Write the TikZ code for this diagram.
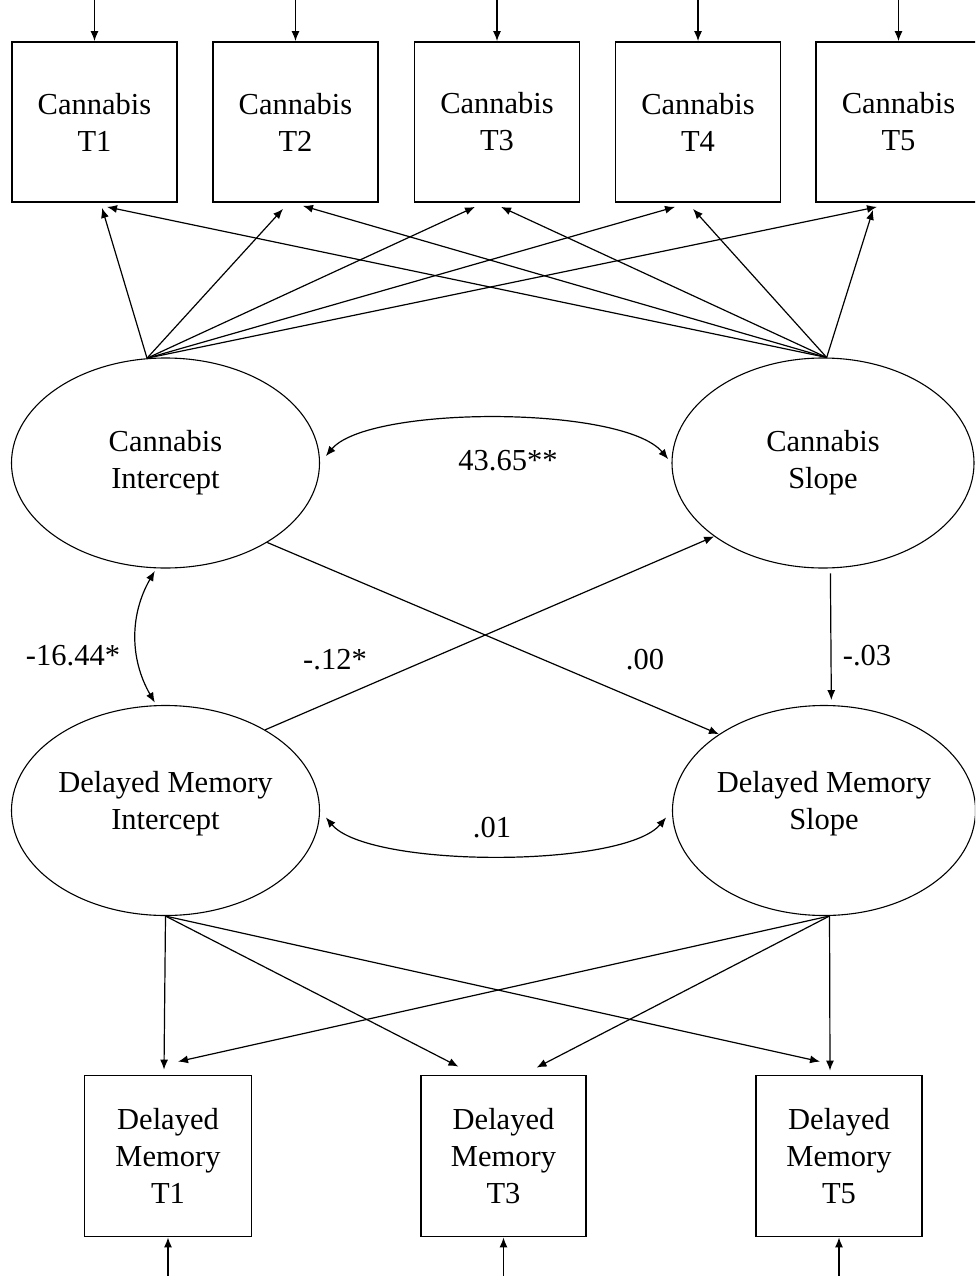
\documentclass[tikz,border=0pt]{standalone}
\usepackage{fontspec}
\setmainfont{Liberation Serif}
\usetikzlibrary{arrows.meta,shapes.geometric}
\begin{document}
\begin{tikzpicture}[x=1pt,y=1pt,
  every node/.style={font=\fontsize{30.5}{37}\selectfont},
  obs/.style={draw,line width=1.8pt,rectangle,minimum width=165pt,minimum height=160pt,align=center,inner sep=0pt},
  lat/.style={draw,line width=1.1pt,ellipse,minimum height=210pt,align=center,inner sep=0pt},
  reg/.style={line width=1.2pt,-{Latex[length=10pt,width=8pt]}},
  cov/.style={line width=1.2pt,{Latex[length=10pt,width=8pt]}-{Latex[length=10pt,width=8pt]}},
  lab/.style={inner sep=0pt}
]
\useasboundingbox (0,0) rectangle (975,-1276);
\clip (0,0) rectangle (975,-1276);

% observed cannabis measures
\node[obs] (c1) at (94.5,-122) {Cannabis\\T1};
\node[obs] (c2) at (295.5,-122) {Cannabis\\T2};
\node[obs] (c3) at (497,-122) {Cannabis\\T3};
\node[obs] (c4) at (698,-122) {Cannabis\\T4};
\node[obs] (c5) at (898.5,-122) {Cannabis\\T5};

% latent growth factors
\node[lat,minimum width=308pt] (ci) at (165.5,-463) {Cannabis\\Intercept};
\node[lat,minimum width=302pt] (cs) at (823,-463) {Cannabis\\Slope};
\node[lat,minimum width=308pt,text height=45pt] (di) at (165.5,-810.5) {Delayed Memory\\Intercept};
\node[lat,minimum width=300pt,text height=45pt] (ds) at (824,-810.5) {Delayed Memory\\Slope};

% observed memory measures
\node[obs,minimum width=167pt,minimum height=161pt] (m1) at (168,-1156) {Delayed\\Memory\\T1};
\node[obs,minimum height=161pt] (m3) at (503.5,-1156) {Delayed\\Memory\\T3};
\node[obs,minimum width=166pt,minimum height=161pt] (m5) at (839,-1156) {Delayed\\Memory\\T5};

% residual arrows
\foreach \b in {c1,c2,c3,c4,c5}{
  \coordinate (\b e) at ([yshift=44pt]\b.north);
  \draw[reg] (\b e) -- (\b.north);
}
\foreach \b in {m1,m3,m5}{
  \coordinate (\b e) at ([yshift=-42pt]\b.south);
  \draw[reg] (\b e) -- (\b.south);
}

% cannabis loadings
\draw[reg] (ci.100) -- ([xshift=7.5pt,yshift=-5pt]c1.south);
\draw[reg] (ci.100) -- ([xshift=-12.5pt,yshift=-6pt]c2.south);
\draw[reg] (ci.100) -- ([xshift=-22pt,yshift=-4pt]c3.south);
\draw[reg] (ci.100) -- ([xshift=-23pt,yshift=-4pt]c4.south);
\draw[reg] (ci.100) -- ([xshift=-21.5pt,yshift=-4pt]c5.south);
\draw[reg] (cs.88) -- ([xshift=12.5pt,yshift=-4pt]c1.south);
\draw[reg] (cs.88) -- ([xshift=7.5pt,yshift=-3pt]c2.south);
\draw[reg] (cs.88) -- ([xshift=4pt,yshift=-4pt]c3.south);
\draw[reg] (cs.88) -- ([xshift=-5pt,yshift=-6pt]c4.south);
\draw[reg] (cs.88) -- ([xshift=-25.5pt,yshift=-7pt]c5.south);

% memory loadings
\draw[reg] (di.south) -- ([xshift=-4pt,yshift=5pt]m1.north);
\draw[reg] (di.south) -- ([xshift=-45pt,yshift=8pt]m3.north);
\draw[reg] (di.south) -- ([xshift=-19pt,yshift=13pt]m5.north);
\draw[reg] (ds.273) -- ([xshift=10pt,yshift=13pt]m1.north);
\draw[reg] (ds.273) -- ([xshift=33pt,yshift=7pt]m3.north);
\draw[reg] (ds.273) -- ([xshift=-9pt,yshift=4pt]m5.north);

% structural paths
\draw[reg] (ci.-38) -- (ds.144);
\draw[reg] (di.39) -- (cs.214);
\draw[reg,shorten <=5pt,shorten >=5pt] (cs.274) -- (ds.86);

% covariances
\draw[cov,shorten <=9pt,shorten >=5pt] (ci.east) to[out=50,in=130,looseness=0.55] (cs.west);
\draw[cov,shorten <=9pt,shorten >=9pt] (di.east) to[out=-50,in=-130,looseness=0.55] (ds.west);
\draw[cov,shorten <=3pt,shorten >=3pt] (ci.265) to[out=-120,in=120] (di.95);

% estimates
\node[lab] (k1) at (508,-461) {43.65**};
\node[lab] (k2) at (492,-828) {.01};
\node[lab] (k3) at (73,-656) {-16.44*};
\node[lab] (k4) at (335,-660) {-.12*};
\node[lab] (k5) at (645,-660) {.00};
\node[lab] (k6) at (867,-656) {-.03};
\end{tikzpicture}
\end{document}
